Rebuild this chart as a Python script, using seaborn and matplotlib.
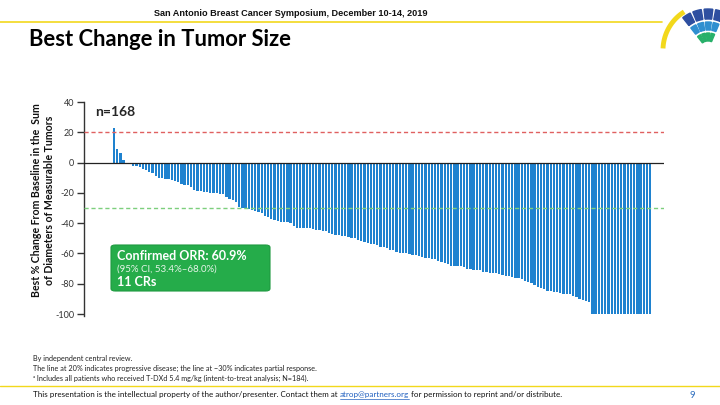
import numpy as np
import pandas as pd
import matplotlib
matplotlib.use("Agg")
import matplotlib.pyplot as plt
from matplotlib.patches import FancyBboxPatch
import seaborn as sns

# ---- data ----
best_change = [
    23, 9, 6, 2, -0.5, -1, -2, -2.5, -3, -4,
    -5, -6, -7, -9, -10, -10.5, -11, -11, -11.5, -12,
    -13, -14, -14.5, -15, -16, -18, -19, -19, -19.5, -19.5,
    -20, -20, -20, -20.5, -21, -23, -24, -25, -26, -29.5,
    -30, -30, -30.5, -31.5, -32, -32.5, -33.5, -35, -36, -37,
    -38, -38.5, -39, -39, -39.5, -40, -42, -43, -43, -43,
    -43.5, -43.5, -44, -44.5, -44.5, -45, -45.5, -46.5, -47, -47.5,
    -48, -48.5, -48.5, -49, -49.5, -50, -51, -51.5, -52.5, -53,
    -53.5, -54, -54.5, -55.5, -56, -56.5, -57.5, -58, -59, -60,
    -60, -60, -60.5, -61, -61, -62, -62.5, -63, -63, -63.5,
    -64, -65, -65.5, -66, -67, -68, -68.5, -68.5, -68.5, -69,
    -70, -70.5, -71, -71, -71, -72, -72, -73, -73, -73,
    -73.5, -74.5, -75, -75, -75.5, -76.5, -76.5, -77, -78.5, -79,
    -79.5, -81, -82, -83, -83.5, -84.5, -85, -85.5, -85.5, -86,
    -86.5, -86.5, -87, -88, -89, -90, -91, -91.5, -92,
    -100, -100, -100, -100, -100, -100, -100, -100, -100, -100,
    -100, -100, -100, -100, -100, -100, -100, -100, -100,
]
patients = list(range(len(best_change)))
y_ticks = [40, 20, 0, -20, -40, -60, -80, -100]
pd_line = 20
pr_line = -30

header = "San Antonio Breast Cancer Symposium, December 10-14, 2019"
title = "Best Change in Tumor Size"
ylabel = "Best % Change From Baseline in the  Sum\nof Diameters of Measurable Tumors"
n_label = "n=168"
box_lines = ["Confirmed ORR: 60.9%", "(95% CI, 53.4%\u201368.0%)", "11 CRs"]
footnotes = [
    "By independent central review.",
    "The line at 20% indicates progressive disease; the line at \u221230% indicates partial response.",
    "\u1d43 Includes all patients who received T-DXd 5.4 mg/kg (intent-to-treat analysis; N=184).",
]
footer = "This presentation is the intellectual property of the author/presenter. Contact them at "
email = "atrop@partners.org"
footer2 = " for permission to reprint and/or distribute."

sns.set_theme(style="white")
plt.rcParams["font.family"] = ["Lato", "DejaVu Sans"]

fig = plt.figure(figsize=(7.2, 4.05), dpi=100)
W, H = 720, 405

def fx(px):
    return px / W

def fy(py):
    return 1 - py / H

ax = fig.add_axes([fx(84), fy(314), fx(664) - fx(84), fy(102) - fy(314)])
df = pd.DataFrame({"patient": patients, "change": best_change})
sns.barplot(data=df, x="patient", y="change", color="#1F82CF", saturation=1,
            width=0.72, ax=ax, linewidth=0)
ax.set_xlim(-9.35, 171.3)
ax.set_ylim(-100, 40)
ax.set_yticks(y_ticks)
ax.set_yticklabels([str(t) for t in y_ticks], fontsize=6.5, color="#333333")
ax.set_xticks([])
ax.set_xlabel("")
ax.set_ylabel("")
for s in ["top", "right", "bottom"]:
    ax.spines[s].set_visible(False)
ax.spines["left"].set_color("#333333")
ax.spines["left"].set_linewidth(1.0)
ax.spines["left"].set_bounds(-101, 40)
ax.tick_params(axis="y", direction="out", length=5, width=1, color="#333333", pad=2, left=True)
ax.axhline(0, color="#222222", lw=0.9, zorder=3)
ax.axhline(pd_line, color="#E06060", lw=1.0, ls=(0, (3, 2)), zorder=3)
ax.axhline(pr_line, color="#7DCF7D", lw=1.0, ls=(0, (3, 2)), zorder=3)
ax.patch.set_alpha(0)

fig.text(fx(43), fy(200), ylabel, rotation=90, fontsize=7.6, fontweight="bold",
         color="#111111", ha="center", va="center", multialignment="center", linespacing=1.15)

# header
fig.text(fx(291), fy(13), header, fontsize=6.6, fontweight="bold",
         family=["Liberation Sans Narrow", "Liberation Sans"],
         ha="center", va="center", color="#111111")
fig.add_artist(plt.Line2D([0, fx(662)], [fy(22), fy(22)], color="#F2D81C", lw=1.2))
fig.text(fx(29), fy(40), title, fontsize=15.8, fontweight="bold", ha="left", va="center",
         color="#000000")

# logo (simple arcs)
cx, cy = 708, 50
for r0, r1, col in [(31, 41, "#2E4FA0"), (20, 28, "#2F8FD0"), (9, 17, "#28B06A")]:
    angs = np.linspace(65, 130, 5)
    for k in range(4):
        a0, a1 = np.deg2rad(angs[k] + 2), np.deg2rad(angs[k + 1] - 2)
        th = np.linspace(a0, a1, 10)
        xs = np.concatenate([cx + r1 * np.cos(th), cx + r0 * np.cos(th[::-1])])
        ys = np.concatenate([cy - r1 * np.sin(th), cy - r0 * np.sin(th[::-1])])
        fig.add_artist(plt.Polygon(np.column_stack([xs / W, 1 - ys / H]), closed=True,
                                   color=col, transform=fig.transFigure))
th = np.linspace(np.deg2rad(122), np.deg2rad(178), 20)
fig.add_artist(plt.Line2D((cx + 45 * np.cos(th)) / W, 1 - (cy - 45 * np.sin(th)) / H,
                          color="#F2D81C", lw=3.5, solid_capstyle="butt"))

# n label
fig.text(fx(95), fy(112), n_label, fontsize=10, fontweight="bold", ha="left", va="center")

# green box
box = FancyBboxPatch((fx(111), fy(291)), fx(270) - fx(111), fy(245) - fy(291),
                     boxstyle="round,pad=0,rounding_size=0.006", transform=fig.transFigure,
                     facecolor="#25AC4A", edgecolor="#1E9A40", lw=0.8, zorder=5)
fig.add_artist(box)
fig.text(fx(117), fy(256), box_lines[0], fontsize=9, fontweight="bold", color="white",
         ha="left", va="center", zorder=6)
fig.text(fx(117), fy(269), box_lines[1], fontsize=7, color="#E8F5EA",
         ha="left", va="center", zorder=6)
fig.text(fx(117), fy(282), box_lines[2], fontsize=9, fontweight="bold", color="white",
         ha="left", va="center", zorder=6)

# footnotes
for i, t in enumerate(footnotes):
    fig.text(fx(33), fy(358 + i * 10), t, fontsize=5.2, color="#222222", ha="left", va="center")
fig.add_artist(plt.Line2D([0, 1], [fy(386), fy(386)], color="#F2D81C", lw=1.0))
fs = 5.75
t1 = fig.text(fx(33), fy(395), footer, fontsize=fs, color="#111111", ha="left", va="center")
fig.canvas.draw()
bb = t1.get_window_extent()
x2 = bb.x1 / fig.bbox.width
t2 = fig.text(x2, fy(395), email, fontsize=fs, color="#1F5FBF", ha="left", va="center")
fig.canvas.draw()
bb2 = t2.get_window_extent()
fig.add_artist(plt.Line2D([x2, bb2.x1 / fig.bbox.width], [fy(399), fy(399)], color="#1F5FBF", lw=0.5))
fig.text(bb2.x1 / fig.bbox.width, fy(395), footer2, fontsize=fs, color="#111111", ha="left", va="center")
fig.text(fx(692), fy(395), "9", fontsize=7, color="#2F6FBF", ha="center", va="center")

fig.savefig("out.png", dpi=100)
